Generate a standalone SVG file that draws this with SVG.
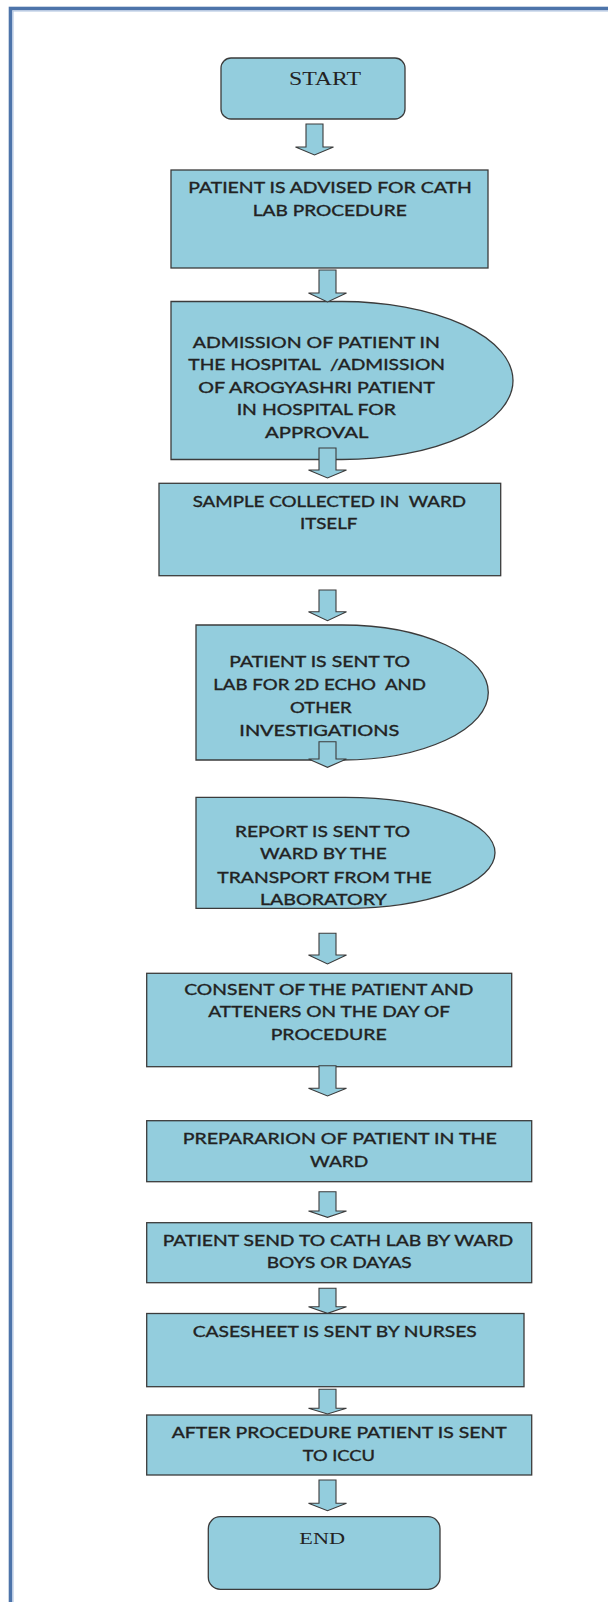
<svg xmlns="http://www.w3.org/2000/svg" width="608" height="1602" viewBox="0 0 608 1602">
<style>
.shape{fill:#93CDDD;stroke:#3b3b3b;stroke-width:1.3}
.arrow{fill:#93CDDD;stroke:#3b3b3b;stroke-width:1.1;stroke-linejoin:miter}
.t{font-family:Lato,"Liberation Sans",Arial,sans-serif;font-size:15px;fill:#222222;stroke:#222222;stroke-width:0.35}
.s{font-family:"Liberation Serif","Times New Roman",serif;fill:#232323}
</style>
<rect x="0" y="0" width="608" height="1602" fill="#ffffff"/>
<g id="frame">
<rect x="10.5" y="8.5" width="640" height="1640" fill="none" stroke="#4D74AA" stroke-width="3.6"/>
<rect x="13" y="11" width="640" height="1640" fill="none" stroke="#A9C0DE" stroke-width="1"/>
</g>
<g id="start">
<rect class="shape" x="221" y="58" width="184" height="61" rx="10"/>
<text class="s" x="289" y="85" font-size="19" textLength="72" lengthAdjust="spacingAndGlyphs">START</text>
</g>
<g id="advised">
<rect class="shape" x="171" y="170" width="317" height="98"/>
<text class="t" x="188.3" y="193.3" textLength="283.4" lengthAdjust="spacingAndGlyphs">PATIENT IS ADVISED FOR CATH</text>
<text class="t" x="252.7" y="216" textLength="154" lengthAdjust="spacingAndGlyphs">LAB PROCEDURE</text>
</g>
<g id="admission">
<path class="shape" d="M171,301.5 H342 A171,79 0 0 1 342,459.5 H171 Z"/>
<text class="t" x="192.7" y="347.7" textLength="247.3" lengthAdjust="spacingAndGlyphs">ADMISSION OF PATIENT IN</text>
<text class="t" x="188.3" y="370" textLength="256.7" lengthAdjust="spacingAndGlyphs" xml:space="preserve">THE HOSPITAL  /ADMISSION</text>
<text class="t" x="198.3" y="392.7" textLength="236.7" lengthAdjust="spacingAndGlyphs">OF AROGYASHRI PATIENT</text>
<text class="t" x="236.7" y="415" textLength="159.3" lengthAdjust="spacingAndGlyphs">IN HOSPITAL FOR</text>
<text class="t" x="265" y="437.7" textLength="103.3" lengthAdjust="spacingAndGlyphs">APPROVAL</text>
</g>
<g id="sample">
<rect class="shape" x="159" y="483.3" width="341.7" height="92.4"/>
<text class="t" x="192.7" y="506.7" textLength="273.3" lengthAdjust="spacingAndGlyphs" xml:space="preserve">SAMPLE COLLECTED IN  WARD</text>
<text class="t" x="300" y="529.3" textLength="57.3" lengthAdjust="spacingAndGlyphs">ITSELF</text>
</g>
<g id="echo">
<path class="shape" d="M196,625 H342 A146.3,67.5 0 0 1 342,760 H196 Z"/>
<text class="t" x="229.3" y="667.3" textLength="180.7" lengthAdjust="spacingAndGlyphs">PATIENT IS SENT TO</text>
<text class="t" x="213.3" y="690" textLength="212.7" lengthAdjust="spacingAndGlyphs" xml:space="preserve">LAB FOR 2D ECHO  AND</text>
<text class="t" x="290" y="712.7" textLength="61.7" lengthAdjust="spacingAndGlyphs">OTHER</text>
<text class="t" x="239.3" y="735.7" textLength="160" lengthAdjust="spacingAndGlyphs">INVESTIGATIONS</text>
</g>
<g id="report">
<path class="shape" d="M196,797.3 H345.5 A149.5,55.5 0 0 1 345.5,908.3 H196 Z"/>
<text class="t" x="235" y="836.7" textLength="175" lengthAdjust="spacingAndGlyphs">REPORT IS SENT TO</text>
<text class="t" x="260" y="859.3" textLength="126.7" lengthAdjust="spacingAndGlyphs">WARD BY THE</text>
<text class="t" x="217.3" y="882.7" textLength="214.3" lengthAdjust="spacingAndGlyphs">TRANSPORT FROM THE</text>
<text class="t" x="260" y="905" textLength="126.7" lengthAdjust="spacingAndGlyphs">LABORATORY</text>
</g>
<g id="consent">
<rect class="shape" x="146.7" y="973.3" width="365" height="93.4"/>
<text class="t" x="184.3" y="995" textLength="289" lengthAdjust="spacingAndGlyphs">CONSENT OF THE PATIENT AND</text>
<text class="t" x="208.3" y="1017.3" textLength="241.7" lengthAdjust="spacingAndGlyphs">ATTENERS ON THE DAY OF</text>
<text class="t" x="270.7" y="1040" textLength="116" lengthAdjust="spacingAndGlyphs">PROCEDURE</text>
</g>
<g id="preparation">
<rect class="shape" x="146.7" y="1120.7" width="385" height="61"/>
<text class="t" x="182.7" y="1144.3" textLength="314" lengthAdjust="spacingAndGlyphs">PREPARARION OF PATIENT IN THE</text>
<text class="t" x="310" y="1167.3" textLength="58.3" lengthAdjust="spacingAndGlyphs">WARD</text>
</g>
<g id="send">
<rect class="shape" x="146.7" y="1222.7" width="385" height="60"/>
<text class="t" x="162.7" y="1246" textLength="350.6" lengthAdjust="spacingAndGlyphs">PATIENT SEND TO CATH LAB BY WARD</text>
<text class="t" x="266.7" y="1268.3" textLength="145" lengthAdjust="spacingAndGlyphs">BOYS OR DAYAS</text>
</g>
<g id="casesheet">
<rect class="shape" x="146.7" y="1313.5" width="377.3" height="73.2"/>
<text class="t" x="192.7" y="1337.3" textLength="284" lengthAdjust="spacingAndGlyphs">CASESHEET IS SENT BY NURSES</text>
</g>
<g id="after">
<rect class="shape" x="146.7" y="1415" width="385" height="60"/>
<text class="t" x="171.7" y="1438.3" textLength="335" lengthAdjust="spacingAndGlyphs">AFTER PROCEDURE PATIENT IS SENT</text>
<text class="t" x="302.7" y="1460.7" textLength="72.3" lengthAdjust="spacingAndGlyphs">TO ICCU</text>
</g>
<g id="end">
<rect class="shape" x="208.3" y="1516.7" width="231.7" height="72.6" rx="12"/>
<text class="s" x="299.3" y="1544" font-size="17.5" textLength="45.7" lengthAdjust="spacingAndGlyphs">END</text>
</g>
<g id="connectors">
<path class="arrow" d="M306,124 H323 V147 H333.5 L314.5,155 L295.5,147 H306 Z"/>
<path class="arrow" d="M319,270 H336 V293 H346.5 L327.5,302 L308.5,293 H319 Z"/>
<path class="arrow" d="M319,448 H336 V470 H346.5 L327.5,478 L308.5,470 H319 Z"/>
<path class="arrow" d="M319,590 H336 V611.7 H346.5 L327.5,620.7 L308.5,611.7 H319 Z"/>
<path class="arrow" d="M319,741.7 H336 V759 H346.5 L327.5,767.3 L308.5,759 H319 Z"/>
<path class="arrow" d="M319,933.3 H336 V955 H346.5 L327.5,964 L308.5,955 H319 Z"/>
<path class="arrow" d="M319,1065.7 H336 V1088.3 H346.5 L327.5,1096 L308.5,1088.3 H319 Z"/>
<path class="arrow" d="M319,1191.7 H336 V1211 H346.5 L327.5,1217.3 L308.5,1211 H319 Z"/>
<path class="arrow" d="M319,1288.3 H336 V1306.7 H346.5 L327.5,1313.3 L308.5,1306.7 H319 Z"/>
<path class="arrow" d="M319,1389.3 H336 V1408.3 H346.5 L327.5,1414 L308.5,1408.3 H319 Z"/>
<path class="arrow" d="M319,1480 H336 V1503.3 H346.5 L327.5,1510.7 L308.5,1503.3 H319 Z"/>
</g>
</svg>
